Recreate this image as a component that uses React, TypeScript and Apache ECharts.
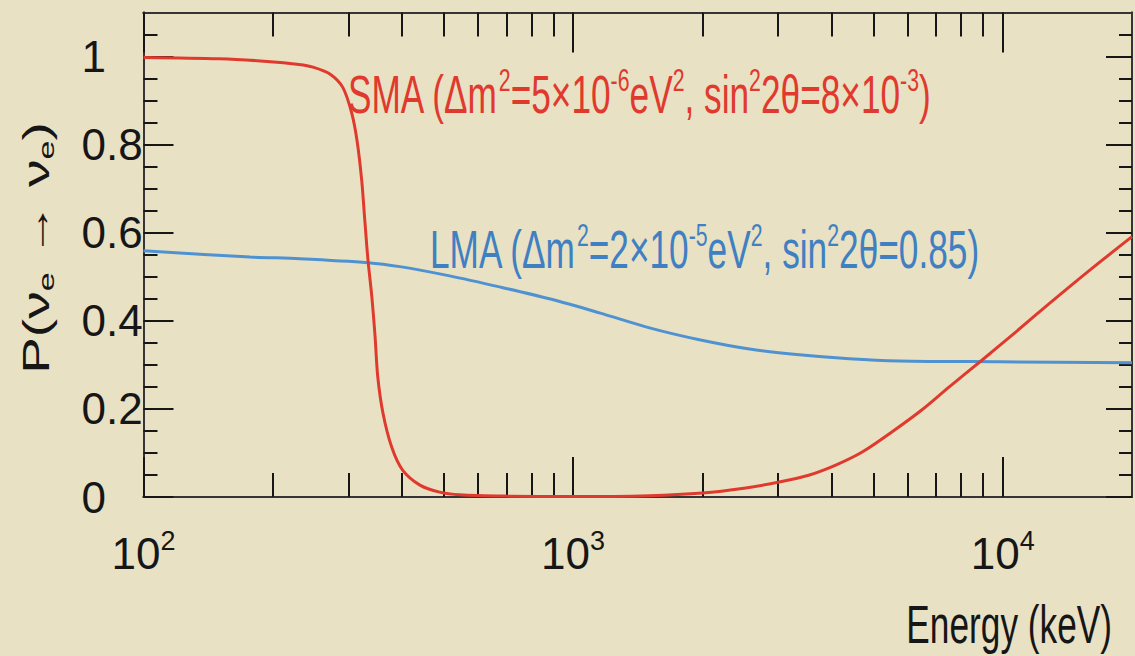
import React, { useEffect, useRef } from "react";
import * as echarts from "echarts";

// ---- data ----
const energySMA = [100, 150, 194, 230, 248, 272, 291, 305, 314, 322, 327, 333, 340, 346, 351, 361, 378, 401, 440, 489, 545, 700, 1000, 1500, 2000, 2500, 3020, 3550, 4100, 4710, 5530, 6490, 7510, 8960, 10740, 12830, 15900, 20000];
const probSMA = [0.998, 0.995, 0.989, 0.982, 0.976, 0.96, 0.93, 0.873, 0.81, 0.72, 0.636, 0.539, 0.455, 0.364, 0.273, 0.19, 0.114, 0.061, 0.027, 0.011, 0.005, 0.002, 0.001, 0.003, 0.009, 0.02, 0.034, 0.05, 0.073, 0.102, 0.148, 0.198, 0.25, 0.311, 0.375, 0.439, 0.514, 0.591];

const energyLMA = [100, 177, 231, 333, 395, 516, 674, 881, 1152, 1506, 1968, 2573, 3363, 4395, 5744, 9810, 20000];
const probLMA = [0.559, 0.545, 0.541, 0.532, 0.523, 0.502, 0.477, 0.45, 0.418, 0.384, 0.357, 0.336, 0.323, 0.314, 0.309, 0.307, 0.305];

const xMajorTicks = [100, 1000, 10000];
const xTickExponents = ["2", "3", "4"];
const xMinorTicks = [200, 300, 400, 500, 600, 700, 800, 900, 2000, 3000, 4000, 5000, 6000, 7000, 8000, 9000];
const yMajorTicks = [0, 0.2, 0.4, 0.6, 0.8, 1.0];
const yTickLabels = ["0", "0.2", "0.4", "0.6", "0.8", "1"];
const yMinorTicks = [0.05, 0.1, 0.15, 0.25, 0.3, 0.35, 0.45, 0.5, 0.55, 0.65, 0.7, 0.75, 0.85, 0.9, 0.95, 1.05];

const SMA_LABEL = "{m|SMA (Δm}{s|2}{m|=5×10}{s|-6}{m|eV}{s|2}{m|, sin}{s|2}{m|2θ=8×10}{s|-3}{m|)}";
const LMA_LABEL = "{m|LMA (Δm}{s|2}{m|=2×10}{s|-5}{m|eV}{s|2}{m|, sin}{s|2}{m|2θ=0.85)}";
const Y_TITLE = "{m|P(ν}{b|e}{m| → ν}{b|e}{m|)}";
const X_TITLE = "Energy (keV)";

const SANS = "'Liberation Sans', Arial, sans-serif";
const BG = "#e9e1c3";
const RED = "#e03a2e";
const BLUE = "#4f92d2";
const BLUE_TXT = "#3f80c2";
const INK = "#161616";

export default function App() {
  const ref = useRef<HTMLDivElement>(null);

  useEffect(() => {
    document.body.style.margin = "0";
    document.body.style.background = BG;
    const chart = echarts.init(ref.current!, null, { renderer: "svg" });

    const lineStyle = { color: "#353535", width: 2 };
    const tickStyle = { color: INK, width: 2 };

    const mkX = (position: string, length: number, ticks: number[], label: boolean) => ({
      type: "log",
      logBase: 10,
      min: 100,
      max: 20000,
      position,
      axisLine: { show: true, onZero: false, lineStyle },
      axisTick: { show: true, inside: true, length, customValues: ticks, lineStyle: tickStyle },
      axisLabel: label
        ? {
            show: true,
            customValues: xMajorTicks,
            margin: 30,
            formatter: (v: number) => {
              const i = xMajorTicks.findIndex((t) => Math.abs(t - v) / t < 1e-6);
              return "{b|10}{s|" + (i >= 0 ? xTickExponents[i] : "") + "}";
            },
            rich: {
              b: { fontSize: 44, lineHeight: 52, fontFamily: SANS, color: INK },
              s: { fontSize: 27, lineHeight: 27, verticalAlign: "top", fontFamily: SANS, color: INK },
            },
          }
        : { show: false },
      splitLine: { show: false },
    });

    const mkY = (position: string, length: number, ticks: number[], label: boolean) => ({
      type: "value",
      min: 0,
      max: 1.1,
      position,
      axisLine: { show: true, onZero: false, lineStyle },
      axisTick: { show: true, inside: true, length, customValues: ticks, lineStyle: tickStyle },
      axisLabel: label
        ? {
            show: true,
            customValues: yMajorTicks,
            align: "left",
            margin: 62,
            fontSize: 44,
            fontFamily: SANS,
            color: INK,
            formatter: (v: number) => {
              const i = yMajorTicks.findIndex((t) => Math.abs(t - v) < 1e-6);
              return i >= 0 ? yTickLabels[i] : "";
            },
          }
        : { show: false },
      splitLine: { show: false },
    });

    const option = {
      animation: false,
      backgroundColor: BG,
      grid: { left: 143.5, right: 3, top: 12.5, bottom: 159, containLabel: false },
      xAxis: [
        mkX("bottom", 24, xMinorTicks, true),
        mkX("bottom", 40, xMajorTicks, false),
        mkX("top", 24, xMinorTicks, false),
        mkX("top", 40, xMajorTicks, false),
      ],
      yAxis: [
        mkY("left", 30, yMajorTicks, true),
        mkY("left", 14, yMinorTicks, false),
        mkY("right", 26, yMajorTicks, false),
        mkY("right", 13, yMinorTicks, false),
      ],
      series: [
        {
          type: "line",
          name: "LMA",
          xAxisIndex: 0,
          yAxisIndex: 0,
          data: energyLMA.map((e, i) => [e, probLMA[i]]),
          symbol: "none",
          smooth: 0.3,
          lineStyle: { color: BLUE, width: 3 },
          z: 3,
        },
        {
          type: "line",
          name: "SMA",
          xAxisIndex: 0,
          yAxisIndex: 0,
          data: energySMA.map((e, i) => [e, probSMA[i]]),
          symbol: "none",
          smooth: 0.3,
          lineStyle: { color: RED, width: 3 },
          z: 4,
        },
      ],
      graphic: [
        {
          type: "text",
          x: 348,
          y: 95,
          scaleX: 0.665,
          z: 10,
          style: {
            text: SMA_LABEL,
            align: "left",
            verticalAlign: "middle",
            rich: {
              m: { fontSize: 53, lineHeight: 62, fontFamily: SANS, fill: RED },
              s: { fontSize: 32, lineHeight: 32, verticalAlign: "top", fontFamily: SANS, fill: RED },
            },
          },
        },
        {
          type: "text",
          x: 430,
          y: 250,
          scaleX: 0.665,
          z: 10,
          style: {
            text: LMA_LABEL,
            align: "left",
            verticalAlign: "middle",
            rich: {
              m: { fontSize: 53, lineHeight: 62, fontFamily: SANS, fill: BLUE_TXT },
              s: { fontSize: 32, lineHeight: 32, verticalAlign: "top", fontFamily: SANS, fill: BLUE_TXT },
            },
          },
        },
        {
          type: "text",
          x: 36,
          y: 248,
          rotation: Math.PI / 2,
          scaleY: 0.665,
          z: 10,
          style: {
            text: Y_TITLE,
            align: "center",
            verticalAlign: "middle",
            rich: {
              m: { fontSize: 55, lineHeight: 64, fontFamily: SANS, fill: INK },
              b: { fontSize: 34, lineHeight: 34, verticalAlign: "bottom", fontFamily: SANS, fill: INK },
            },
          },
        },
        {
          type: "text",
          x: 1112,
          y: 625,
          scaleX: 0.665,
          z: 10,
          style: {
            text: X_TITLE,
            align: "right",
            verticalAlign: "middle",
            fontSize: 53,
            fontFamily: SANS,
            fill: INK,
          },
        },
      ],
    };

    chart.setOption(option as any);
    return () => chart.dispose();
  }, []);

  return (
    <div
      ref={ref}
      style={{ position: "fixed", left: 0, top: 0, width: 1135, height: 656, background: BG }}
    />
  );
}
